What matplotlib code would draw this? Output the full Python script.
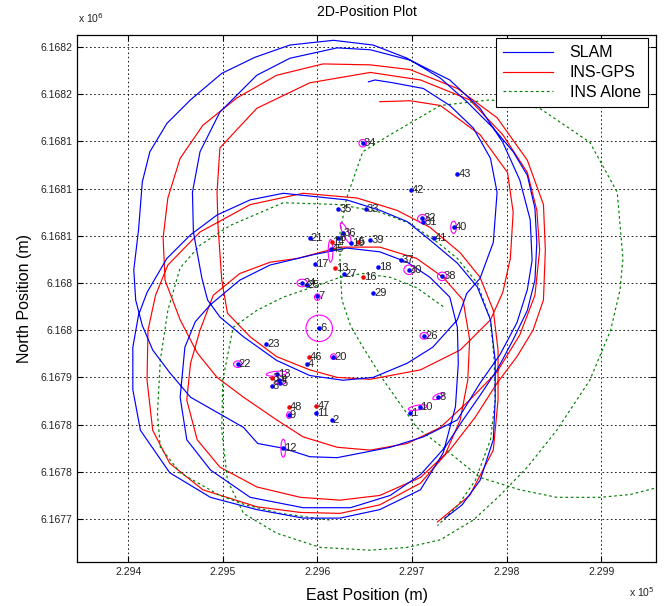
import numpy as np
import matplotlib
matplotlib.use("Agg")
import matplotlib.pyplot as plt
from matplotlib.patches import Ellipse

plt.rcParams['font.family'] = ['Liberation Sans', 'DejaVu Sans']

# Local origin of the metric grid (m)
E0 = 229000.0
N0 = 6167000.0

# ---------------- trajectories (m, relative to E0/N0) ----------------
slam_east = [654, 661, 680, 712, 740, 765, 783, 790, 786, 772, 758, 748, 722, 695, 659, 627, 592, 557, 522, 497,
             484, 478, 469, 468, 476, 497, 536, 571, 621, 656, 698, 740, 772, 796, 814, 825, 827, 822, 811, 793,
             772, 748, 712, 677, 621, 592, 564, 537, 522, 494, 466, 444, 426, 415, 408, 406, 411, 415, 423, 441,
             466, 499, 534, 571, 617, 659, 695, 730, 758, 786, 807, 822, 830, 832, 830, 822, 807, 790, 772, 754,
             735, 709, 677, 635, 585, 529, 487, 462, 455, 460, 471, 487, 518, 550, 596, 631, 666, 695, 719, 740,
             748, 749, 746, 733, 709, 666, 624, 585, 536, 487, 444, 413, 405, 405, 411, 420, 441, 466, 494, 529,
             564, 631, 666, 695, 722, 748, 769, 783, 788, 788, 786, 772, 753, 735]
slam_north = [1163, 1165, 1162, 1156, 1138, 1114, 1082, 1046, 993, 955, 939, 911, 882, 865, 850, 847, 852, 868, 893, 914,
              932, 955, 1004, 1046, 1089, 1131, 1170, 1188, 1199, 1197, 1186, 1165, 1135, 1099, 1059, 1017, 974, 943, 908, 874,
              844, 805, 787, 776, 765, 766, 775, 780, 797, 813, 829, 855, 879, 905, 932, 964, 1006, 1057, 1089, 1119,
              1144, 1172, 1189, 1202, 1207, 1202, 1188, 1167, 1142, 1114, 1089, 1064, 1029, 993, 953, 921, 890, 858, 831, 805,
              776, 747, 725, 712, 712, 723, 752, 784, 829, 882, 909, 927, 953, 969, 980, 987, 983, 972, 956, 935,
              903, 865, 819, 770, 731, 710, 701, 701, 710, 723, 749, 794, 837, 882, 916, 940, 976, 1001, 1022, 1038,
              1045, 1038, 1027, 1015, 993, 971, 946, 911, 868, 826, 784, 741, 715, 701]

insgps_east = [666, 698, 730, 772, 801, 807, 804, 796, 783, 751, 709, 656, 621, 592, 557, 529, 505, 499, 495, 494,
               497, 536, 592, 656, 709, 761, 796, 822, 832, 835, 830, 814, 790, 761, 730, 695, 656, 621, 585, 557,
               522, 494, 473, 455, 439, 437, 442, 455, 479, 515, 557, 606, 656, 698, 748, 790, 822, 839, 841, 839,
               828, 811, 790, 767, 740, 709, 666, 624, 582, 536, 497, 473, 462, 466, 476, 490, 518, 550, 579, 624,
               666, 705, 733, 754, 761, 759, 751, 735, 709, 666, 624, 582, 536, 479, 444, 426, 420, 421, 429, 442,
               476, 529, 585, 642, 684, 719, 751, 772, 786, 791, 791, 786, 761, 727]
insgps_north = [1142, 1143, 1138, 1107, 1067, 1025, 976, 940, 911, 879, 858, 848, 850, 858, 872, 893, 918, 953, 1011, 1046,
                1093, 1135, 1162, 1173, 1165, 1144, 1107, 1067, 1027, 985, 937, 895, 856, 826, 797, 780, 773, 776, 787, 805,
                829, 850, 876, 911, 953, 998, 1040, 1082, 1117, 1146, 1170, 1182, 1181, 1176, 1156, 1125, 1080, 1033, 985, 932,
                900, 872, 844, 808, 773, 744, 725, 720, 723, 734, 755, 784, 826, 865, 900, 937, 960, 972, 976, 988,
                988, 976, 956, 932, 890, 847, 805, 768, 738, 715, 706, 707, 713, 731, 759, 794, 847, 900, 937, 969,
                1004, 1033, 1045, 1040, 1027, 1009, 982, 956, 921, 879, 826, 773, 725, 697]

ins_a_east = [733, 705, 677, 648, 624, 596, 564, 536, 511, 500, 499, 505, 522, 557, 603, 656, 695, 730, 765, 793,
              822, 853, 888, 910, 920, 923, 917, 888, 835, 783, 730, 677, 648, 631, 624, 624, 626, 635, 647, 670,
              705, 740, 772, 814, 853, 899, 931, 958]
ins_a_north = [925, 945, 956, 960, 956, 946, 935, 921, 903, 847, 794, 741, 706, 685, 670, 667, 670, 678, 699, 725,
               755, 794, 847, 900, 943, 976, 1046, 1099, 1135, 1144, 1138, 1107, 1089, 1040, 1004, 969, 932, 905, 884, 847,
               797, 770, 744, 731, 723, 723, 726, 733]
ins_b_east = [613, 561, 524, 497, 455, 434, 431, 434, 442, 455, 476, 508, 564, 624, 666, 698, 727, 748, 769, 783,
              787, 788, 783, 767, 749, 727]
ins_b_north = [699, 706, 715, 725, 749, 776, 812, 868, 921, 966, 990, 1011, 1035, 1033, 1025, 1013, 993, 976, 950, 911,
               868, 826, 784, 741, 715, 693]

# ---------------- landmarks ----------------
lm_labels = ['34', '43', '42', '35', '33', '32', '31', '40', '21', '36', '41', '39', '19', '8', '45', '37',
             '17', '18', '27', '30', '38', '24', '25', '29', '7', '6', '26', '23', '20', '4', '22', '13',
             '4', '8', '5', '9', '11', '2', '8', '10', '1', '12']
lm_east = [648, 748, 699, 622, 651, 711, 712, 744, 592, 627, 723, 656, 636, 622, 614, 688,
           598, 664, 628, 697, 732, 584, 589, 659, 600, 602, 713, 546, 617, 589, 516, 557,
           560, 552, 561, 570, 599, 615, 728, 708, 698, 564]
lm_north = [1098, 1065, 1049, 1028, 1028, 1019, 1015, 1009, 998, 1003, 998, 995, 992, 998, 986, 974,
            970, 967, 960, 964, 957, 950, 948, 939, 936, 902, 894, 885, 872, 864, 864, 854,
            847, 841, 844, 810, 812, 805, 829, 819, 812, 775]
true_labels = ['14', '5', '13', '16', '46', '3', '48', '47']
true_east = [615, 643, 619, 648, 591, 552, 570, 599]
true_north = [993, 993, 966, 956, 872, 849, 819, 820]

# covariance ellipses: centre, width, height (m), angle (deg)
ell_east = [648, 711, 744, 630, 614, 697, 732, 584, 600, 602, 713, 617, 516, 557, 561, 728, 706, 564, 570]
ell_north = [1098, 1018, 1009, 1003, 984, 964, 957, 950, 935, 902, 894, 872, 864, 854, 845, 830, 818, 775, 810]
ell_w = [8, 10, 6, 6, 5, 11, 10, 11, 6, 28, 9, 6, 9, 22, 11, 13, 20, 5, 5]
ell_h = [8, 9, 13, 24, 24, 10, 9, 8, 7, 28, 7, 6, 7, 5, 5, 5, 5, 19, 7]
ell_ang = [0, 0, 0, 25, 0, 0, 0, 0, 0, 0, 0, 0, 0, 5, 0, 25, 10, 0, 0]

x_ticks = [229400, 229500, 229600, 229700, 229800, 229900]
x_ticklabels = ['2.294', '2.295', '2.296', '2.297', '2.298', '2.299']
y_ticks = [6167700, 6167750, 6167800, 6167850, 6167900, 6167950, 6168000, 6168050, 6168100, 6168150, 6168200]
y_ticklabels = ['6.1677', '6.1678', '6.1678', '6.1679', '6.168', '6.168', '6.1681', '6.1681', '6.1681', '6.1682', '6.1682']

# ---------------- figure ----------------
fig = plt.figure(figsize=(6.64, 6.06), dpi=100)
ax = fig.add_axes([0.116, 0.0726, 0.872, 0.8696])

E = lambda a: E0 + np.asarray(a, float)
N = lambda a: N0 + np.asarray(a, float)

ax.plot(E(slam_east), N(slam_north), color='#0000ff', lw=0.85, label='SLAM', zorder=3)
ax.plot(E(insgps_east), N(insgps_north), color='#ff0000', lw=0.85, label='INS-GPS', zorder=2)
ax.plot(E(ins_a_east), N(ins_a_north), color='#008000', lw=0.85, ls=(0, (2.2, 2.4)), label='INS Alone', zorder=2.5)
ax.plot(E(ins_b_east), N(ins_b_north), color='#008000', lw=0.85, ls=(0, (2.2, 2.4)), zorder=2.5)

for x, y, w, h, a in zip(ell_east, ell_north, ell_w, ell_h, ell_ang):
    ax.add_patch(Ellipse((E0 + x, N0 + y), w, h, angle=a, fill=False, edgecolor='#ff00ff', lw=0.8, zorder=4))

ax.plot(E(true_east), N(true_north), ls='none', marker='.', ms=4.5, color='#ff0000', zorder=5)
ax.plot(E(lm_east), N(lm_north), ls='none', marker='.', ms=4.5, color='#0000ff', zorder=6)
for x, y, t in zip(lm_east, lm_north, lm_labels):
    ax.text(E0 + x + 1, N0 + y, t, fontsize=8, ha='left', va='center', color='#222222', zorder=7)
for x, y, t in zip(true_east, true_north, true_labels):
    ax.text(E0 + x + 1, N0 + y, t, fontsize=8, ha='left', va='center', color='#222222', zorder=7)

ax.set_xlim(229346, 229958)
ax.set_ylim(6167654.5, 6168212.6)
ax.set_xticks(x_ticks)
ax.set_xticklabels(x_ticklabels)
ax.set_yticks(y_ticks)
ax.set_yticklabels(y_ticklabels)
ax.tick_params(direction='in', length=4, width=0.8, top=True, right=True, labelsize=7.5, colors='black')
for lbl in ax.get_xticklabels() + ax.get_yticklabels():
    lbl.set_color('#222222')
ax.grid(True, color='black', ls=(0, (2, 3)), lw=0.6)
for s in ax.spines.values():
    s.set_linewidth(0.9)

ax.set_title('2D-Position Plot', fontsize=10, pad=14)
ax.set_xlabel('East Position (m)', fontsize=11.5, labelpad=8)
ax.set_ylabel('North Position (m)', fontsize=11.5, labelpad=6)

fig.text(0.118, 0.958, r'x 10$^{6}$', fontsize=7.5, ha='left', va='bottom', color='#222222')
fig.text(0.986, 0.012, r'x 10$^{5}$', fontsize=7.5, ha='right', va='bottom', color='#222222')

leg = ax.legend(loc='upper right', bbox_to_anchor=(0.986, 0.994), fontsize=11.5, frameon=True, fancybox=False,
                edgecolor='black', framealpha=1, borderpad=0.45, handlelength=3.1, labelspacing=0.3,
                handletextpad=1.05, borderaxespad=0.0)
leg.get_frame().set_linewidth(0.8)

fig.savefig('out.png', dpi=100)
